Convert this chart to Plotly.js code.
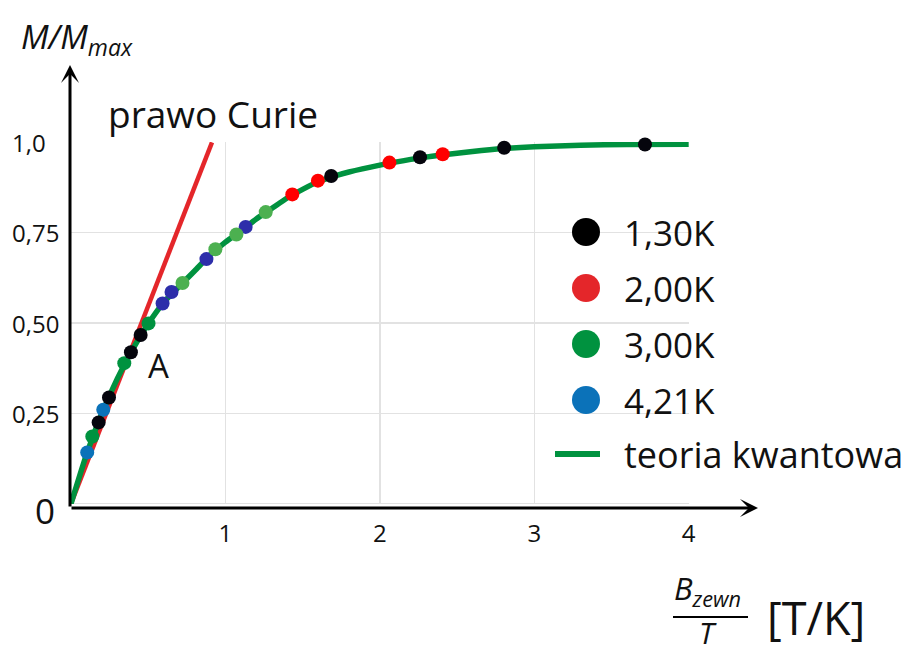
<!DOCTYPE html>
<html><head><meta charset="utf-8">
<script src="https://cdn.plot.ly/plotly-3.0.1.min.js"></script>
<style>html,body{margin:0;padding:0;background:#fff}#chart{width:912px;height:653px}</style>
</head><body><div id="chart"></div>
<script>
// ---- data ----
const theoryX = [0, 0.1, 0.2, 0.3, 0.4, 0.5, 0.6, 0.7, 0.8, 0.9, 1.0, 1.1, 1.2, 1.3, 1.4, 1.5, 1.6, 1.7, 1.8, 2.0, 2.2, 2.4, 2.6, 2.8, 3.0, 3.3, 3.6, 4.0];
const theoryY = [0, 0.136, 0.250, 0.346, 0.428, 0.498, 0.557, 0.601, 0.644, 0.688, 0.724, 0.755, 0.788, 0.817, 0.846, 0.870, 0.891, 0.906, 0.918, 0.937, 0.953, 0.965, 0.975, 0.983, 0.988, 0.992, 0.994, 0.995];
const curieX = [0, 0.913];
const curieY = [0, 1.0];

const k130X = [0.179, 0.246, 0.388, 0.451, 1.685, 2.260, 2.805, 3.717];
const k130Y = [0.225, 0.294, 0.419, 0.467, 0.907, 0.959, 0.985, 0.994];
const k200X = [1.433, 1.599, 2.062, 2.407];
const k200Y = [0.856, 0.894, 0.944, 0.967];
const k300X = [0.138, 0.345, 0.502, 0.722, 0.935, 1.071, 1.261];
const k300Y = [0.186, 0.389, 0.499, 0.611, 0.704, 0.745, 0.807];
const k421X = [0.105, 0.209, 0.593, 0.651, 0.877, 1.131];
const k421Y = [0.142, 0.260, 0.554, 0.586, 0.677, 0.766];

const seriesNames = ['1,30K', '2,00K', '3,00K', '4,21K'];
const theoryName = 'teoria kwantowa';
const curieName = 'prawo Curie';

const xTickVals = [1, 2, 3, 4];
const xTickText = ['1', '2', '3', '4'];
const yTickVals = [0.25, 0.5, 0.75, 1.0];
const yTickText = ['0,25', '0,50', '0,75', '1,0'];

// ---- styles ----
const legendColors = ['#000000', '#e4262a', '#00923f', '#0b72b9'];
const k130Colors = '#05050d';
const k200Colors = '#ff0000';
const k300Colors = ['#00923f', '#00923f', '#00923f', '#4cb050', '#4cb050', '#4cb050', '#4cb050'];
const k421Colors = ['#0b72b9', '#0b72b9', '#2d2eaa', '#2d2eaa', '#2d2eaa', '#2d2eaa'];
const lineGreen = '#00923f';
const lineRed = '#e4262a';
const txt = '#111111';
const FONT = 'Open Sans, Noto Sans, DejaVu Sans, sans-serif';

// plot area in pixels
const L = 71, R = 689, T = 142, B = 504, W = 912, H = 653;
const px = v => (v - L) / (R - L);
const py = v => (B - v) / (B - T);

function pts(x, y, name, color) {
  return {x: x, y: y, type: 'scatter', mode: 'markers', name: name, showlegend: false,
    cliponaxis: false, marker: {size: 14, color: color, line: {width: 0}}};
}

const traces = [
  {x: curieX, y: curieY, type: 'scatter', mode: 'lines', name: curieName, showlegend: false,
   cliponaxis: false, line: {color: lineRed, width: 4.5}},
  {x: theoryX, y: theoryY, type: 'scatter', mode: 'lines', name: theoryName, showlegend: false,
   cliponaxis: false, line: {color: lineGreen, width: 5.5, shape: 'spline', smoothing: 0.6}},
  pts(k421X, k421Y, seriesNames[3], k421Colors),
  pts(k300X, k300Y, seriesNames[2], k300Colors),
  pts(k200X, k200Y, seriesNames[1], k200Colors),
  pts(k130X, k130Y, seriesNames[0], k130Colors)
];

const shapes = [];
const annotations = [];

// axes arrows
annotations.push({xref: 'paper', yref: 'paper', x: px(758), y: py(508), axref: 'pixel', ayref: 'pixel',
  ax: -(758 - 70), ay: 0, showarrow: true, arrowhead: 3, arrowsize: 1.0, arrowwidth: 3, arrowcolor: '#000', text: ''});
annotations.push({xref: 'paper', yref: 'paper', x: px(70), y: py(65), axref: 'pixel', ayref: 'pixel',
  ax: 0, ay: 508 - 65, showarrow: true, arrowhead: 3, arrowsize: 1.0, arrowwidth: 3, arrowcolor: '#000', text: ''});

// y tick labels (left aligned, as in the reference)
yTickVals.forEach((v, i) => {
  annotations.push({xref: 'paper', yref: 'y', x: px(10), y: v, xanchor: 'left', yanchor: 'middle',
    text: yTickText[i], showarrow: false, font: {family: FONT, size: 24, color: txt}});
});

// zero label
annotations.push({xref: 'paper', yref: 'paper', x: px(45), y: py(510), xanchor: 'center', yanchor: 'middle',
  text: '0', showarrow: false, font: {family: FONT, size: 35, color: txt}});

// in-plot labels
annotations.push({xref: 'paper', yref: 'paper', x: px(213), y: py(113), xanchor: 'center', yanchor: 'middle',
  text: curieName, showarrow: false, font: {family: FONT, size: 37, color: txt}});
annotations.push({xref: 'paper', yref: 'paper', x: px(158), y: py(365), xanchor: 'center', yanchor: 'middle',
  text: 'A', showarrow: false, font: {family: FONT, size: 33, color: txt}});

// axis titles
annotations.push({xref: 'paper', yref: 'paper', x: px(19), y: py(38), xanchor: 'left', yanchor: 'middle',
  text: '<i>M/M<sub>max</sub></i>', showarrow: false, font: {family: FONT, size: 33, color: txt}});
annotations.push({xref: 'paper', yref: 'paper', x: px(672), y: py(590), xanchor: 'left', yanchor: 'middle',
  text: '<i>B<sub>zewn</sub></i>', showarrow: false, font: {family: FONT, size: 31, color: txt}});
annotations.push({xref: 'paper', yref: 'paper', x: px(708), y: py(632), xanchor: 'center', yanchor: 'middle',
  text: '<i>T</i>', showarrow: false, font: {family: FONT, size: 30, color: txt}});
shapes.push({type: 'line', xref: 'paper', yref: 'paper', x0: px(673), x1: px(748), y0: py(617), y1: py(617),
  line: {color: '#000', width: 2}});
annotations.push({xref: 'paper', yref: 'paper', x: px(765), y: py(617), xanchor: 'left', yanchor: 'middle',
  text: '[T/K]', showarrow: false, font: {family: FONT, size: 45, color: txt}});

// manual legend
const legX = 586, legTextX = 622, legY0 = 232, legDY = 56;
seriesNames.forEach((n, i) => {
  const cy = legY0 + i * legDY;
  shapes.push({type: 'circle', xref: 'paper', yref: 'paper', xsizemode: 'pixel', ysizemode: 'pixel',
    xanchor: px(legX), yanchor: py(cy), x0: -14, x1: 14, y0: -14, y1: 14,
    fillcolor: legendColors[i], line: {width: 0}});
  annotations.push({xref: 'paper', yref: 'paper', x: px(legTextX), y: py(cy), xanchor: 'left', yanchor: 'middle',
    text: n, showarrow: false, font: {family: FONT, size: 35, color: txt}});
});
const lineRowY = legY0 + 4 * legDY - 2;
shapes.push({type: 'line', xref: 'paper', yref: 'paper', x0: px(555), x1: px(600), y0: py(lineRowY), y1: py(lineRowY),
  line: {color: lineGreen, width: 6}});
annotations.push({xref: 'paper', yref: 'paper', x: px(legTextX), y: py(lineRowY), xanchor: 'left', yanchor: 'middle',
  text: theoryName, showarrow: false, font: {family: FONT, size: 36, color: txt}});

const layout = {
  width: W, height: H,
  margin: {l: L, r: W - R, t: T, b: H - B, pad: 0},
  paper_bgcolor: '#fff', plot_bgcolor: '#fff',
  showlegend: false,
  font: {family: FONT, color: txt},
  xaxis: {range: [0, 4.002], tickvals: xTickVals, ticktext: xTickText, showgrid: true,
    gridcolor: '#e2e2e2', gridwidth: 1.5, zeroline: false, showline: false, ticks: '',
    tickfont: {family: FONT, size: 24, color: txt}, ticklabelstandoff: 13, fixedrange: true},
  yaxis: {range: [-0.0008, 1.001], tickvals: yTickVals, showticklabels: false, showgrid: true,
    gridcolor: '#e2e2e2', gridwidth: 1.5, zeroline: true, zerolinecolor: '#e2e2e2', zerolinewidth: 1.5,
    showline: false, ticks: '', fixedrange: true},
  shapes: shapes,
  annotations: annotations
};

Plotly.newPlot('chart', traces, layout, {displayModeBar: false, staticPlot: true});
</script>
</body></html>
